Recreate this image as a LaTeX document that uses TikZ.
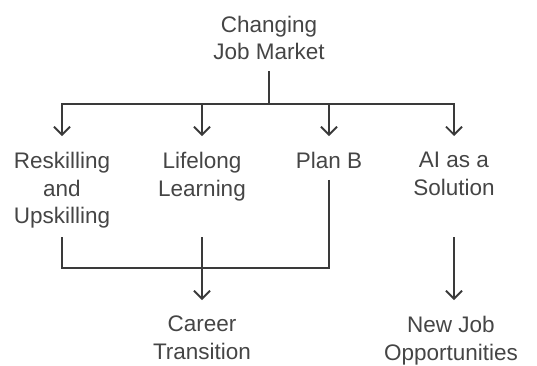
\documentclass[tikz,border=0pt]{standalone}
\usepackage{fontspec}
\setmainfont{Liberation Sans}
\usetikzlibrary{arrows.meta}
\definecolor{txt}{HTML}{454545}
\definecolor{ln}{HTML}{3A3A3A}
\begin{document}
\begin{tikzpicture}[x=1pt,y=-1pt,
  lbl/.style={font=\fontsize{22.5}{27.5}\selectfont, text=txt, align=center, inner sep=0pt, anchor=north},
  conn/.style={draw=ln, line width=1.8pt},
  arr/.style={conn, -{Straight Barb[length=8pt,width=16pt]}}]
\useasboundingbox (0,0) rectangle (537,365);
\node[lbl] (cjm) at (269,15.6) {Changing\\Job Market};
\node[lbl] (rs) at (62,152) {Reskilling\\and\\Upskilling};
\node[lbl] (ll) at (202,152) {Lifelong\\Learning};
\node[lbl] (pb) at (329,152) {Plan B};
\node[lbl] (ai) at (454,152) {AI as a\\Solution};
\node[lbl] (ct) at (202,316) {Career\\Transition};
\node[lbl] (nj) at (451,316) {New Job\\Opportunities};
% top fan-out
\coordinate (j1) at (269,104);
\draw[conn] ([yshift=-11pt]cjm.south) -- (j1);
\draw[arr] (j1) -| ([yshift=16pt]rs.north);
\draw[arr] (j1) -| ([yshift=16pt]ll.north);
\draw[arr] (j1) -| ([yshift=16pt]pb.north);
\draw[arr] (j1) -| ([yshift=16pt]ai.north);
% merge into career transition
\coordinate (lvl) at ([yshift=-9pt]rs.south);
\coordinate (mrg) at (202,268);
\draw[conn] (lvl -| rs) |- (mrg);
\draw[conn] ([yshift=-11pt]pb.south) |- (mrg);
\draw[arr] (lvl -| ll) -- ([yshift=16pt]ct.north);
% AI to new jobs
\coordinate (njtop) at ([yshift=16pt]nj.north);
\draw[arr] (lvl -| ai) -- (njtop -| ai);
\end{tikzpicture}
\end{document}
